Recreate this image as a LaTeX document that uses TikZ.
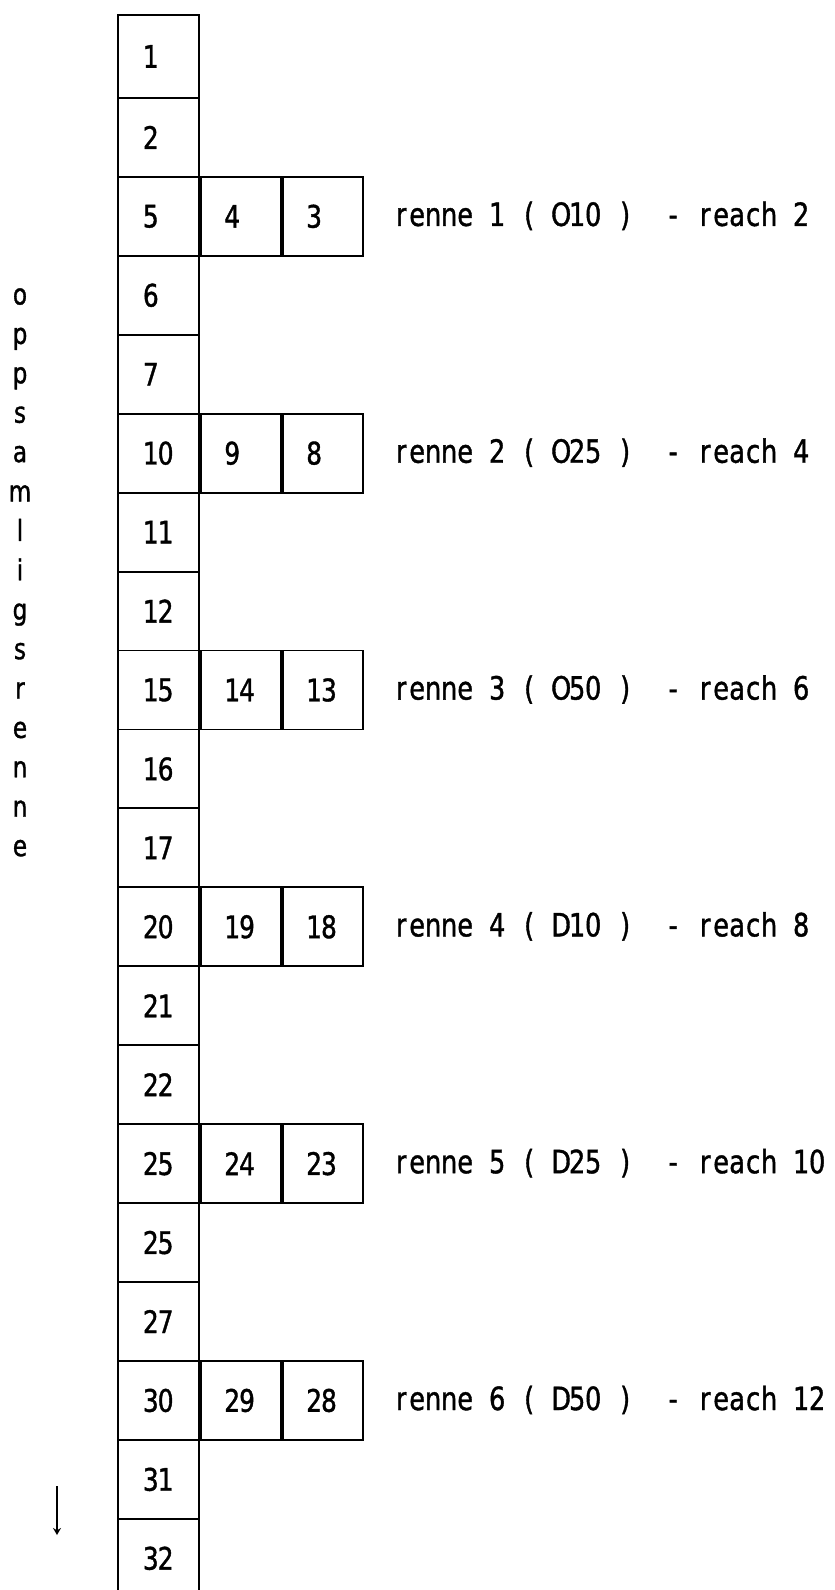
\documentclass[tikz,border=0pt]{standalone}
\usepackage{fontspec}
\newfontfamily\gf[FakeStretch=0.8,FakeBold=1.2]{DejaVu Sans}
\usetikzlibrary{arrows.meta}
\makeatletter
\newcommand\mono[2]{\def\mono@w{#1}\expandafter\mono@loop#2\mono@end}
\def\mono@end{\mono@end}
\def\mono@loop#1{\ifx#1\mono@end\else\makebox[\mono@w][c]{#1}\expandafter\mono@loop\fi}
\makeatother
\tikzset{
  cell/.style={draw, line width=1.9pt, minimum width=81pt, text width=30pt,
    inner xsep=25.5pt, inner ysep=0pt, align=left, anchor=north west,
    font=\gf\fontsize{31}{31}\selectfont},
  sidecell/.style={cell, minimum width=80pt, text width=32pt, inner xsep=24pt},
  lab/.style={anchor=base west, inner sep=0pt, font=\gf\fontsize{32}{32}\selectfont},
  vlet/.style={anchor=base, inner sep=0pt, font=\gf\fontsize{29}{29}\selectfont},
  flow/.style={line width=1.6pt, -{Stealth[length=7pt,width=8pt]}}
}
\begin{document}
\begin{tikzpicture}[x=1pt,y=-1pt]
\useasboundingbox (0,0) rectangle (835,1590);
\fill[white] (0,0) rectangle (835,1590);
\begin{scope}
\clip (0,0) rectangle (835,1590);
\foreach \n [count=\k from 0] in {1,2,5,6,7,10,11,12,15,16,17,20,21,22,25,25,27,30,31,32}{
  \pgfmathsetmacro\yt{\k==0 ? 14 : 97+(\k-1)*78.94}
  \pgfmathsetmacro\hh{\k==0 ? 83 : 78.94}
  \node[cell, minimum height=\hh pt] (c\k) at (117,\yt) {\mono{14.8pt}{\n}};
}
\end{scope}
\foreach \k/\p/\q/\t in {
  2/4/3/{renne~1~(~O10~)~~-~reach~2},
  5/9/8/{renne~2~(~O25~)~~-~reach~4},
  8/14/13/{renne~3~(~O50~)~~-~reach~6},
  11/19/18/{renne~4~(~D10~)~~-~reach~8},
  14/24/23/{renne~5~(~D25~)~~-~reach~10},
  17/29/28/{renne~6~(~D50~)~~-~reach~12}}{
  \pgfmathsetmacro\yb{97+(\k-1)*78.94+39.47+10.5}
  \node[sidecell, minimum height=78.94pt, anchor=north west] (sa\k) at (c\k.north east) {\mono{14.8pt}{\p}};
  \node[sidecell, minimum height=78.94pt, anchor=north west] (sb\k) at (sa\k.north east) {\mono{14.8pt}{\q}};
  \node[lab] (l\k) at (393,\yb) {\mono{16pt}{\t}};
}
\foreach \ch [count=\i from 0] in {o,p,p,s,a,m,l,i,g,s,r,e,n,n,e}{
  \pgfmathsetmacro\yy{297+\i*39.4+7.5}
  \node[vlet] (v\i) at (20,\yy) {\ch};
}
\coordinate (a1) at (57,1486);
\coordinate (a2) at (57,1535);
\draw[flow] (a1) -- (a2);
\end{tikzpicture}
\end{document}
